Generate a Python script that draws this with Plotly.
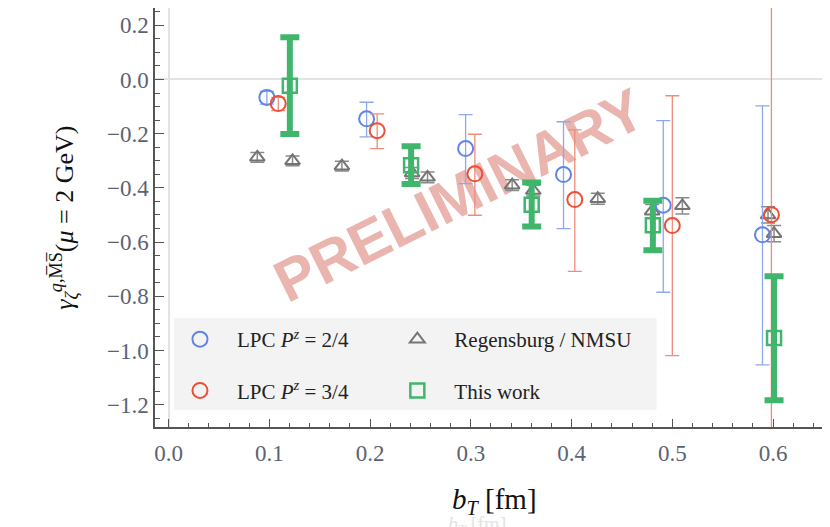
import plotly.graph_objects as go

# ---------------- data ----------------
lpc24_x = [0.0975, 0.1965, 0.2948, 0.392, 0.491, 0.5895]
lpc24_y = [-0.066, -0.145, -0.255, -0.351, -0.464, -0.573]
lpc24_up = [0.022, 0.061, 0.125, 0.195, 0.312, 0.476]
lpc24_dn = [0.025, 0.067, 0.129, 0.199, 0.321, 0.480]

lpc34_x = [0.1088, 0.207, 0.304, 0.4032, 0.500, 0.5984]
lpc34_y = [-0.089, -0.189, -0.348, -0.443, -0.539, -0.499]
lpc34_up = [0.023, 0.062, 0.146, 0.257, 0.479, 3.0]
lpc34_dn = [0.026, 0.066, 0.153, 0.265, 0.480, 3.0]

reg_x = [0.088, 0.123, 0.172, 0.2417, 0.257, 0.341, 0.362, 0.426, 0.480, 0.510, 0.595, 0.601]
reg_y = [-0.287, -0.300, -0.320, -0.345, -0.361, -0.390, -0.410, -0.440, -0.486, -0.466, -0.500, -0.569]
reg_err = [0.018, 0.018, 0.018, 0.020, 0.020, 0.020, 0.020, 0.020, 0.025, 0.030, 0.030, 0.030]

tw_x = [0.1203, 0.2407, 0.3604, 0.4807, 0.601]
tw_y = [-0.023, -0.316, -0.462, -0.538, -0.954]
tw_up = [0.179, 0.070, 0.082, 0.091, 0.228]
tw_dn = [0.178, 0.070, 0.080, 0.092, 0.230]

labels = ["LPC <i>P</i><sup><i>z</i></sup> = 2/4", "LPC <i>P</i><sup><i>z</i></sup> = 3/4",
          "Regensburg / NMSU", "This work"]

SERIF = "Liberation Serif"
BLUE, BLUE_E = "#5f86e6", "#8ea8ec"
RED, RED_E = "#ea4f37", "#f08c7a"
GRAY = "#747474"
GREEN = "#3fb66c"

fig = go.Figure()

fig.add_trace(go.Scatter(
    x=reg_x, y=reg_y, mode="markers", name=labels[2], legend="legend2", legendgroup="c",
    marker=dict(symbol="triangle-up-open", size=13, color=GRAY, line=dict(width=2, color=GRAY)),
    error_y=dict(type="data", array=reg_err, color="#8a8a8a", thickness=1.5, width=7),
))
fig.add_trace(go.Scatter(
    x=lpc24_x, y=lpc24_y, mode="markers", name=labels[0], legend="legend", legendgroup="a",
    marker=dict(symbol="circle-open", size=15, color=BLUE, line=dict(width=2, color=BLUE)),
    error_y=dict(type="data", symmetric=False, array=lpc24_up, arrayminus=lpc24_dn,
                 color=BLUE_E, thickness=1.3, width=7),
))
fig.add_trace(go.Scatter(
    x=lpc34_x, y=lpc34_y, mode="markers", name=labels[1], legend="legend", legendgroup="b",
    marker=dict(symbol="circle-open", size=15, color=RED, line=dict(width=2, color=RED)),
    error_y=dict(type="data", symmetric=False, array=lpc34_up, arrayminus=lpc34_dn,
                 color=RED_E, thickness=1.3, width=7),
))
fig.add_trace(go.Scatter(
    x=tw_x, y=tw_y, mode="markers", name=labels[3], legend="legend2", legendgroup="d",
    marker=dict(symbol="square-open", size=14, color=GREEN, line=dict(width=2.5, color=GREEN)),
    error_y=dict(type="data", symmetric=False, array=tw_up, arrayminus=tw_dn,
                 color=GREEN, thickness=6, width=9.5),
))

axis_common = dict(
    showline=True, linecolor="#555555", linewidth=1.5,
    ticks="inside", tickcolor="#555555", tickwidth=1.2,
    showgrid=False, zeroline=True, zerolinecolor="#e3e3e3", zerolinewidth=2,
    tickfont=dict(family=SERIF, size=23, color="#5b6372"),
    tickformat=".1f", tick0=0,
)

legend_common = dict(xanchor="left", yanchor="top", bgcolor="rgba(0,0,0,0)",
                     font=dict(family=SERIF, size=21, color="#222222"), itemwidth=64,
                     tracegroupgap=21, traceorder="grouped")

fig.update_layout(
    width=830, height=527,
    margin=dict(l=147, r=0, t=0, b=108),
    plot_bgcolor="white", paper_bgcolor="white",
    xaxis=dict(range=[-0.01355, 0.6625], dtick=0.1, ticklen=8, ticklabelstandoff=5,
               minor=dict(dtick=0.02, ticks="inside", ticklen=4, tickcolor="#555555"),
               **axis_common),
    yaxis=dict(range=[-1.2823, 0.2638], dtick=0.2, ticklen=9, mirror="ticks",
               minor=dict(dtick=0.05, ticks="inside", ticklen=5, tickcolor="#555555"),
               **axis_common),
    legend=dict(x=0.0117, y=0.2578, **legend_common),
    legend2=dict(x=0.3309, y=0.2578, **legend_common),
    showlegend=True,
)

# legend background panel
fig.add_shape(type="rect", xref="paper", yref="paper", x0=0.0278, x1=0.7365, y0=0.0406, y1=0.260,
              fillcolor="#f3f3f3", line=dict(width=0), layer="below")

# PRELIMINARY watermark (below the data)
fig.add_shape(type="rect", xref="x", yref="y", x0=0.283, x1=0.289, y0=-0.411, y1=-0.405,
              line=dict(width=0), fillcolor="rgba(0,0,0,0)", layer="below",
              label=dict(text="<b>PRELIMINARY</b>", textangle=-26.5, textposition="middle center",
                         font=dict(family="Liberation Sans", size=59, color="rgba(214,105,95,0.5)")))

# axis titles
fig.add_annotation(xref="paper", yref="paper", x=-0.1347, y=0.50, xanchor="center", yanchor="middle",
                   showarrow=False, textangle=-90,
                   text="<i>γ</i><sub><i>ζ</i></sub><sup><i>q</i>,M̅S̅</sup>(<i>μ</i> = 2 GeV)",
                   font=dict(family=SERIF, size=26, color="#111111"))
fig.add_annotation(xref="paper", yref="paper", x=0.4978, y=-0.176, xanchor="center", yanchor="middle",
                   showarrow=False, text="<i>b</i><sub><i>T</i></sub> [fm]",
                   font=dict(family=SERIF, size=29, color="#111111"))
# faint ghost of the axis label seen in the source image
fig.add_annotation(xref="paper", yref="paper", x=0.473, y=-0.234, xanchor="center", yanchor="middle",
                   showarrow=False, text="<i>b</i><sub><i>T</i></sub> [fm]",
                   font=dict(family=SERIF, size=20, color="#e4e4e4"))

fig.write_html("out.html")
